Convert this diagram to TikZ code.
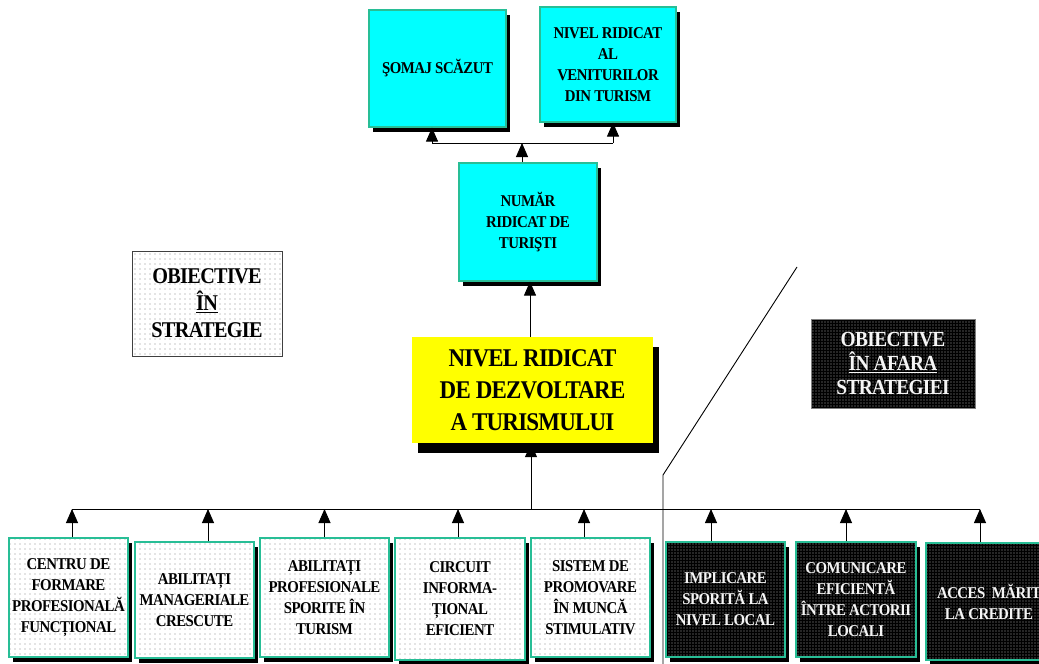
\documentclass[tikz,border=0pt]{standalone}
\usepackage{fontspec}
\newfontfamily\tf{Liberation Serif}[FakeStretch=0.9, LetterSpace=-3]
\usetikzlibrary{arrows.meta,patterns.meta,shadows}
\definecolor{bordc}{RGB}{40,190,150}
\definecolor{cyanb}{RGB}{0,255,255}
\definecolor{yelb}{RGB}{255,255,0}
\tikzset{
 base/.style={inner sep=0pt, align=center, text=black},
 shad/.style={drop shadow={shadow xshift=4pt, shadow yshift=-5pt, opacity=1, fill=black}},
 sfont/.style={font=\tf\bfseries\fontsize{16.5}{21}\selectfont},
 cbox/.style={base, shad, sfont, draw=bordc, line width=1.2pt, fill=cyanb},
 lbox/.style={base, shad, sfont, draw=bordc, line width=1.2pt, preaction={fill=white}, pattern={Dots[distance=5pt,radius=0.7pt]}, pattern color=black!45},
 dbox/.style={base, shad, sfont, draw=bordc, line width=1.2pt, preaction={fill=black}, pattern={Dots[distance=3pt,radius=0.55pt]}, pattern color=gray!70, text=gray!8},
 ybox/.style={base, drop shadow={shadow xshift=6pt, shadow yshift=-10pt, opacity=1, fill=black}, fill=yelb, font=\tf\bfseries\fontsize{25.5}{32}\selectfont},
 legin/.style={base, draw=black!75, line width=1pt, preaction={fill=white}, pattern={Dots[distance=5pt,radius=0.7pt]}, pattern color=black!45, font=\tf\bfseries\fontsize{22.5}{27}\selectfont},
 legout/.style={base, draw=gray, line width=1pt, preaction={fill=black}, pattern={Dots[distance=3pt,radius=0.55pt]}, pattern color=gray!70, text=gray!8, font=\tf\bfseries\fontsize{21.5}{24}\selectfont},
 conn/.style={line width=0.9pt, draw=black},
 arr/.style={conn, -{Triangle[length=14pt,width=12pt]}},
}
\begin{document}
\begin{tikzpicture}[x=1pt,y=-1pt]
\useasboundingbox (0,0) rectangle (1039,664);
\clip (0,0) rectangle (1039,664);
\fill[white] (0,0) rectangle (1039,664);

% divider
\coordinate (d0) at (663,670);
\coordinate (d1) at (663,475);
\coordinate (d2) at (797,267);
\draw[line width=0.9pt] (d0) -- (d1) -- (d2);

% top boxes
\node[cbox, minimum width=137pt, minimum height=117pt] (s1) at (437.5,68.5) {ŞOMAJ SCĂZUT};
\node[cbox, minimum width=136pt, minimum height=115pt] (s2) at (608,64.5) {NIVEL RIDICAT\\AL\\VENITURILOR\\DIN TURISM};
\node[cbox, minimum width=138pt, minimum height=118pt] (num) at (528,222) {NUMĂR\\RIDICAT DE\\TURIŞTI};
\node[ybox, minimum width=241pt, minimum height=106pt] (yel) at (532.5,390) {NIVEL RIDICAT\\DE DEZVOLTARE\\A TURISMULUI};

% legends
\node[legin, minimum width=150pt, minimum height=105pt] (lin) at (207,303.5) {OBIECTIVE\\\underline{ÎN}\\STRATEGIE};
\node[legout, minimum width=164pt, minimum height=89pt] (lout) at (893,363.5) {OBIECTIVE\\\underline{ÎN AFARA}\\STRATEGIEI};

% bottom boxes
\node[lbox, minimum width=119pt, minimum height=119pt] (b1) at (68.5,597.5) {CENTRU DE\\FORMARE\\PROFESIONALĂ\\FUNCȚIONAL};
\node[lbox, minimum width=119pt, minimum height=116pt] (b2) at (194.5,600) {ABILITAȚI\\MANAGERIALE\\CRESCUTE};
\node[lbox, minimum width=129pt, minimum height=119pt] (b3) at (324.5,597.5) {ABILITAȚI\\PROFESIONALE\\SPORITE ÎN\\TURISM};
\node[lbox, minimum width=130pt, minimum height=122pt] (b4) at (460,599) {CIRCUIT\\INFORMA-\\ȚIONAL\\EFICIENT};
\node[lbox, minimum width=119pt, minimum height=119pt] (b5) at (590.5,597.5) {SISTEM DE\\PROMOVARE\\ÎN MUNCĂ\\STIMULATIV};
\node[dbox, minimum width=119pt, minimum height=115pt] (b6) at (725.5,599.5) {IMPLICARE\\SPORITĂ LA\\NIVEL LOCAL};
\node[dbox, minimum width=120pt, minimum height=115pt] (b7) at (856,599.5) {COMUNICARE\\EFICIENTĂ\\ÎNTRE ACTORII\\LOCALI};
\node[dbox, minimum width=126pt, minimum height=117pt] (b8) at (989,601.5) {ACCES~ MĂRIT\\LA CREDITE};

% top connectors
\coordinate (busT) at (522,143);
\coordinate (busB) at (531,509);
\draw[conn] ([xshift=-5.5pt]s1.south |- busT) -- ([xshift=5pt]s2.south |- busT);
\draw[arr] ([xshift=-5.5pt]s1.south |- busT) -- ([xshift=-5.5pt]s1.south);
\draw[arr] ([xshift=5pt]s2.south |- busT) -- ([xshift=5pt]s2.south);
\draw[arr] ([xshift=-6pt]num.north) -- ([xshift=-6pt]num.north |- busT);
\draw[arr] ([xshift=-2.5pt]yel.north) -- ([xshift=-2.5pt]yel.north |- num.south);
\draw[arr] ([xshift=-1.5pt]yel.south |- busB) -- ([xshift=-1.5pt]yel.south);

% bottom bus
\draw[conn] ([xshift=3.5pt]b1.north |- busB) -- ([xshift=-9pt]b8.north |- busB);
\foreach \n/\s in {b1/3.5,b2/13.5,b3/0,b4/-2,b5/-6.5,b6/-14.5,b7/-10,b8/-9}
  \draw[arr] ([xshift=\s pt]\n.north) -- ([xshift=\s pt]\n.north |- busB);
\end{tikzpicture}
\end{document}
